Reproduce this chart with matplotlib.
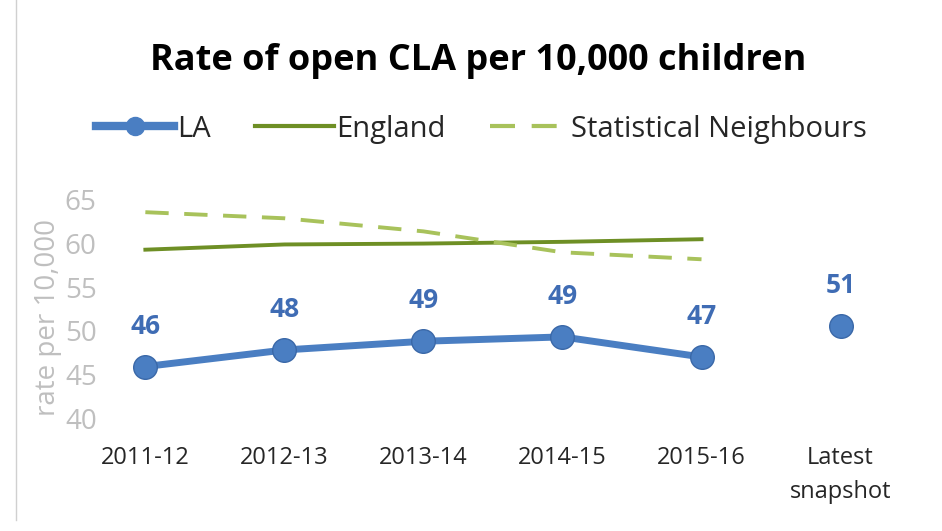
"""
Rate of open CLA per 10,000 children - LA vs England vs Statistical Neighbours
"""
#%% Import libraries ###########################################################
import matplotlib
matplotlib.use('Agg')
import matplotlib.pyplot as plt
from matplotlib.lines import Line2D

#%% Data #######################################################################
years = ['2011-12', '2012-13', '2013-14', '2014-15', '2015-16']
latest_label = 'Latest\nsnapshot'
la_rate = [45.9, 47.8, 48.8, 49.3, 47.0]
la_labels = ['46', '48', '49', '49', '47']
la_latest = 50.6
la_latest_label = '51'
england_rate = [59.3, 59.9, 60.0, 60.2, 60.5]
sn_rate = [63.6, 62.9, 61.4, 59.0, 58.2]
yticks = [40, 45, 50, 55, 60, 65]

#%% Style ######################################################################
plt.rcParams['font.family'] = ['Open Sans', 'DejaVu Sans']
blue = '#4A7EC2'
label_blue = '#3F6CB4'
england_green = '#6E8F25'
sn_green = '#A8C25B'
grey = '#BFBFBF'
dark = '#262626'

#%% Plot #######################################################################
def main():
    fig = plt.figure(figsize=(9.42, 5.31), dpi=100)
    ax = fig.add_axes([0.1115, 0.2128, 0.8546, 0.4106])

    x = list(range(len(years)))
    x_latest = len(years)

    ax.plot(x, la_rate, color=blue, linewidth=5, marker='o', markersize=17,
            markerfacecolor=blue, markeredgecolor='#3A68A8', markeredgewidth=1,
            solid_capstyle='round', label='LA', zorder=3)
    ax.plot(x, england_rate, color=england_green, linewidth=2.8, label='England', zorder=2)
    ax.plot(x, sn_rate, color=sn_green, linewidth=2.8, dashes=(6, 4),
            label='Statistical Neighbours', zorder=2)
    ax.plot([x_latest], [la_latest], linestyle='none', marker='o', markersize=17,
            markerfacecolor=blue, markeredgecolor='#3A68A8', markeredgewidth=1, zorder=3)

    # data labels
    for xi, yi, lab in zip(x, la_rate, la_labels):
        ax.annotate(lab, (xi, yi), xytext=(0, 29), textcoords='offset points',
                    ha='center', va='center', fontsize=19, fontweight='bold',
                    color=label_blue)
    ax.annotate(la_latest_label, (x_latest, la_latest), xytext=(0, 29),
                textcoords='offset points', ha='center', va='center', fontsize=19,
                fontweight='bold', color=label_blue)

    ax.set_xlim(-0.29, 5.5)
    ax.set_ylim(40, 65)
    ax.set_xticks(x + [x_latest])
    ax.set_xticklabels(years + [latest_label], fontsize=17, color=dark,
                       linespacing=1.55)
    ax.set_yticks(yticks)
    ax.set_yticklabels([str(v) for v in yticks], fontsize=20, color=grey)
    ax.tick_params(axis='x', length=0, pad=20)
    ax.tick_params(axis='y', length=0, pad=6)
    for s in ax.spines.values():
        s.set_visible(False)
    ax.set_ylabel('rate per 10,000', fontsize=20, color=grey, labelpad=2)
    ax.yaxis.set_label_coords(-0.054, 0.46)

    fig.text(0.508, 0.885, 'Rate of open CLA per 10,000 children', ha='center',
             va='center', fontsize=26, fontweight='bold', color='black')

    handles = [
        Line2D([], [], color=blue, linewidth=6, marker='o', markersize=13),
        Line2D([], [], color=england_green, linewidth=3),
        Line2D([], [], color=sn_green, linewidth=3, dashes=(6, 4)),
    ]
    fig.legend(handles, ['LA', 'England', 'Statistical Neighbours'],
               loc='center', bbox_to_anchor=(0.511, 0.757), ncol=3, frameon=False,
               fontsize=21, handlelength=2.7, handletextpad=0.1, columnspacing=1.5,
               labelcolor=dark)

    # faint page border on the left
    fig.add_artist(Line2D([0.017, 0.017], [0.02, 1.0], color='#D0D0D0',
                          linewidth=1, transform=fig.transFigure))

    fig.savefig('out.png', dpi=100)

#%% Run main ###################################################################
if __name__ == '__main__':
    main()
